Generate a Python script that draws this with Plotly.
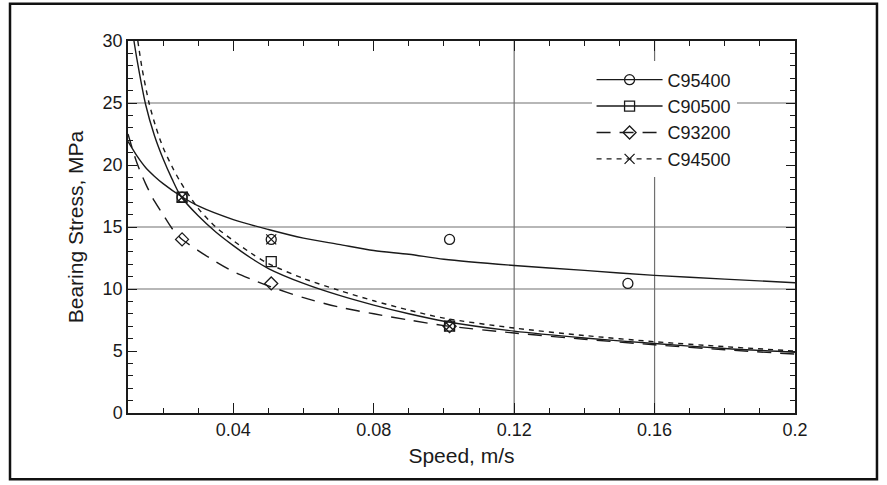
import plotly.graph_objects as go

# ---------------- data ----------------
# measured points (speed m/s, bearing stress MPa)
c95400_speed = [0.0254, 0.0508, 0.1016, 0.1524]
c95400_stress = [17.4, 14.0, 14.0, 10.45]
c90500_speed = [0.0254, 0.0508, 0.1016]
c90500_stress = [17.4, 12.2, 7.0]
c93200_speed = [0.0254, 0.0508, 0.1016]
c93200_stress = [14.0, 10.45, 7.0]
c94500_speed = [0.0254, 0.0508, 0.1016]
c94500_stress = [17.4, 14.0, 7.0]

# fitted curves
c95400_fit_x = [0.01, 0.0125, 0.015, 0.0175, 0.02, 0.025, 0.03, 0.04, 0.05, 0.06,
                0.07, 0.08, 0.09, 0.1, 0.12, 0.14, 0.16, 0.18, 0.2]
c95400_fit_y = [21.9, 20.75, 19.8, 19.1, 18.5, 17.5, 16.7, 15.6, 14.8, 14.1,
                13.6, 13.1, 12.8, 12.4, 11.9, 11.5, 11.1, 10.8, 10.5]
c90500_fit_x = [0.0117, 0.0125, 0.015, 0.0175, 0.02, 0.0225, 0.025, 0.03, 0.035, 0.04,
                0.045, 0.05, 0.06, 0.07, 0.08, 0.09, 0.1, 0.12, 0.14, 0.16, 0.18, 0.2]
c90500_fit_y = [30.0, 28.6, 24.9, 22.4, 20.5, 18.9, 17.5, 15.9, 14.6, 13.5,
                12.5, 11.65, 10.45, 9.5, 8.7, 8.0, 7.4, 6.6, 6.05, 5.6, 5.2, 4.9]
c93200_fit_x = [0.01, 0.0125, 0.015, 0.0175, 0.02, 0.0225, 0.025, 0.03, 0.035, 0.04,
                0.045, 0.05, 0.06, 0.07, 0.08, 0.09, 0.1, 0.12, 0.14, 0.16, 0.18, 0.2]
c93200_fit_y = [22.5, 20.2, 18.5, 17.1, 16.0, 14.9, 14.1, 13.1, 12.2, 11.4,
                10.8, 10.25, 9.3, 8.55, 8.0, 7.5, 7.05, 6.45, 5.95, 5.5, 5.1, 4.75]
c94500_fit_x = [0.0128, 0.014, 0.016, 0.018, 0.02, 0.0225, 0.025, 0.03, 0.035, 0.04,
                0.045, 0.05, 0.06, 0.07, 0.08, 0.09, 0.1, 0.12, 0.14, 0.16, 0.18, 0.2]
c94500_fit_y = [30.0, 27.8, 25.0, 23.0, 21.4, 19.9, 18.6, 16.5, 15.0, 13.9,
                12.9, 12.05, 10.85, 9.9, 9.05, 8.3, 7.65, 6.85, 6.25, 5.75, 5.35, 5.0]

series_names = ["C95400", "C90500", "C93200", "C94500"]
x_tick_vals = [0.04, 0.08, 0.12, 0.16, 0.2]
x_tick_text = ["0.04", "0.08", "0.12", "0.16", "0.2"]
y_tick_vals = [0, 5, 10, 15, 20, 25, 30]
y_tick_text = ["0", "5", "10", "15", "20", "25", "30"]
x_grid_vals = [0.12, 0.16]
y_grid_vals = [10, 15, 25]

# ---------------- styling ----------------
INK = "#1a1a1a"
FONT = "Liberation Sans, Arial, Helvetica, sans-serif"

styles = {
    "C95400": dict(dash="solid", symbol="circle-open"),
    "C90500": dict(dash="solid", symbol="square-open"),
    "C93200": dict(dash="14px,9px", symbol="diamond-open"),
    "C94500": dict(dash="5px,5px", symbol="x-thin-open"),
}

data = {
    "C95400": (c95400_fit_x, c95400_fit_y, c95400_speed, c95400_stress),
    "C90500": (c90500_fit_x, c90500_fit_y, c90500_speed, c90500_stress),
    "C93200": (c93200_fit_x, c93200_fit_y, c93200_speed, c93200_stress),
    "C94500": (c94500_fit_x, c94500_fit_y, c94500_speed, c94500_stress),
}

fig = go.Figure()

for name in series_names:
    fx, fy, px, py = data[name]
    st = styles[name]
    fig.add_trace(go.Scatter(
        x=fx, y=fy, mode="lines", showlegend=False, legendgroup=name,
        line=dict(color=INK, width=1.4, dash=st["dash"], shape="spline", smoothing=0.8),
        hoverinfo="skip"))
    fig.add_trace(go.Scatter(
        x=px, y=py, mode="markers", showlegend=False, legendgroup=name, name=name,
        marker=dict(symbol=st["symbol"], size=10, color=INK,
                    line=dict(color=INK, width=1.3))))
    # legend entry: line style + marker
    fig.add_trace(go.Scatter(
        x=[None], y=[None], mode="lines+markers", name=name, legendgroup=name,
        line=dict(color=INK, width=1.4, dash=st["dash"]),
        marker=dict(symbol=st["symbol"], size=10, color=INK,
                    line=dict(color=INK, width=1.3))))

shapes = []
for gx in x_grid_vals:
    shapes.append(dict(type="line", xref="x", yref="paper", x0=gx, x1=gx, y0=0, y1=1,
                       line=dict(color="#707070", width=1.2), layer="below"))
for gy in y_grid_vals:
    shapes.append(dict(type="line", xref="paper", yref="y", x0=0, x1=1, y0=gy, y1=gy,
                       line=dict(color="#707070", width=1.2), layer="below"))
shapes.append(dict(type="rect", xref="paper", yref="paper",
                   x0=-0.1769, x1=1.1229, y0=-0.178, y1=1.10,
                   line=dict(color="#111", width=2.5), fillcolor="rgba(0,0,0,0)"))

fig.update_layout(
    width=887, height=485,
    margin=dict(l=128, r=92, t=41, b=72),
    paper_bgcolor="white", plot_bgcolor="white",
    font=dict(family=FONT, color=INK, size=18),
    shapes=shapes,
    showlegend=True,
    legend=dict(x=0.695, y=0.945, xanchor="left", yanchor="top",
                bgcolor="white", borderwidth=0,
                font=dict(family=FONT, size=18, color=INK),
                itemwidth=66, tracegroupgap=4, traceorder="normal"),
    xaxis=dict(
        range=[0.01, 0.2], tickmode="array", tickvals=x_tick_vals, ticktext=x_tick_text,
        showgrid=False, zeroline=False,
        showline=True, linecolor=INK, linewidth=1.5, mirror="ticks",
        ticks="inside", ticklen=10, tickwidth=1.2, tickcolor=INK,
        minor=dict(tickmode="linear", dtick=0.01, tick0=0, ticks="inside", ticklen=5,
                   tickwidth=1.2, tickcolor=INK, showgrid=False),
        tickfont=dict(size=18, family=FONT, color=INK),
        title=dict(text="Speed, m/s", font=dict(size=21, family=FONT, color=INK), standoff=9),
    ),
    yaxis=dict(
        range=[0, 30], tickmode="array", tickvals=y_tick_vals, ticktext=y_tick_text,
        showgrid=False, zeroline=False,
        showline=True, linecolor=INK, linewidth=1.5, mirror="ticks",
        ticks="inside", ticklen=9, tickwidth=1.2, tickcolor=INK,
        minor=dict(tickmode="linear", dtick=1, tick0=0, ticks="inside", ticklen=5,
                   tickwidth=1.2, tickcolor=INK, showgrid=False),
        tickfont=dict(size=18, family=FONT, color=INK),
        title=dict(text="Bearing Stress, MPa", font=dict(size=21, family=FONT, color=INK), standoff=13),
    ),
)

fig.write_html("out.html")
